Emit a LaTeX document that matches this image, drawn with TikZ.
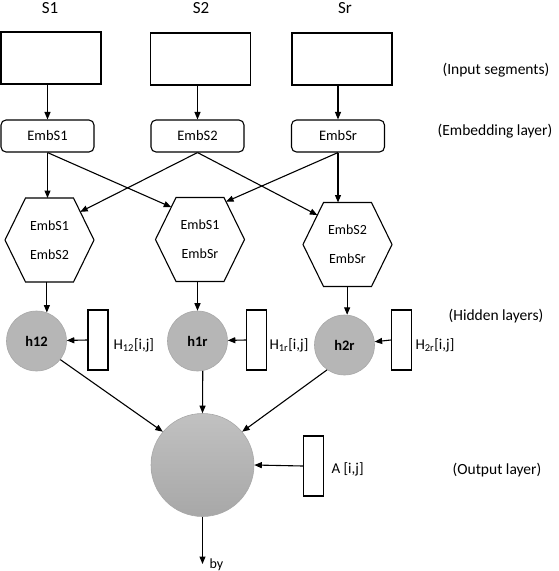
\documentclass[tikz,border=0pt]{standalone}
\usepackage{fontspec}
\setmainfont{Carlito}
\usetikzlibrary{arrows.meta,calc}
\definecolor{hidgray}{HTML}{B6B6B6}
\definecolor{hidedge}{HTML}{A8A8A8}
\newcommand\hexshape[3]{%
  \coordinate (#1-tl) at (#2-24,#3-42);
  \coordinate (#1-tr) at (#2+24,#3-42);
  \coordinate (#1-r)  at (#2+44.5,#3);
  \coordinate (#1-br) at (#2+24,#3+42);
  \coordinate (#1-bl) at (#2-24,#3+42);
  \coordinate (#1-l)  at (#2-44.5,#3);
  \draw[line join=miter] (#1-tl) -- (#1-tr) -- (#1-r) -- (#1-br) -- (#1-bl) -- (#1-l) -- cycle;
}
\begin{document}
\begin{tikzpicture}[x=1pt,y=-1pt,line width=1.1pt,
  arr/.style={-{Triangle[length=7.5pt,width=6pt]}},
  inbox/.style={draw, minimum width=100pt, minimum height=52pt, inner sep=0pt},
  embbox/.style={draw, rounded corners=5pt, minimum width=93pt, minimum height=32pt, inner sep=0pt, font=\fontsize{14.5}{16}\selectfont},
  hextext/.style={align=center, font=\fontsize{14}{29}\selectfont, inner sep=0pt},
  hid/.style={circle, draw=hidedge, line width=0.6pt, fill=hidgray, minimum size=60pt, inner sep=0pt, font=\bfseries\fontsize{14.5}{16}\selectfont},
  wbox/.style={draw, minimum width=20pt, minimum height=60pt, inner sep=0pt},
  toplab/.style={font=\fontsize{17}{20}\selectfont, inner sep=0pt},
  sidelab/.style={font=\fontsize{15.5}{18}\selectfont, inner sep=0pt},
  wlab/.style={font=\fontsize{15}{18}\selectfont, inner sep=0pt, anchor=west}
]
\useasboundingbox (0,0) rectangle (558,571);

% top labels
\node[toplab] (s1) at (50,8) {S1};
\node[toplab] (s2) at (201,8) {S2};
\node[toplab] (sr) at (345,8) {Sr};

% input boxes
\node[inbox] (in1) at (51,58) {};
\node[inbox] (in2) at (200.5,59) {};
\node[inbox] (in3) at (342,59) {};

% embedding boxes
\node[embbox] (emb1) at (47.5,136) {EmbS1};
\node[embbox] (emb2) at (197.5,136) {EmbS2};
\node[embbox] (emb3) at (338,136) {EmbSr};

% hexagons
\hexshape{hex1}{49.5}{240}
\hexshape{hex2}{200}{239.5}
\hexshape{hex3}{347.5}{244.5}
\node[hextext] (hx1) at (49.5,240) {EmbS1\\EmbS2};
\node[hextext] (hx2) at (200,239.5) {EmbS1\\EmbSr};
\node[hextext] (hx3) at (347.5,244.5) {EmbS2\\EmbSr};

% hidden circles
\node[hid] (h12) at (36.5,341) {h12};
\node[hid] (h1r) at (197.5,341) {h1r};
\node[hid] (h2r) at (344.5,345) {h2r};

% weight boxes
\node[wbox] (w1) at (98,340) {};
\node[wbox] (w2) at (256.5,340) {};
\node[wbox] (w3) at (401.5,340) {};
\node[wlab] (l1) at (113,345) {H\textsubscript{12}[i,j]};
\node[wlab] (l2) at (269,345) {H\textsubscript{1r}[i,j]};
\node[wlab] (l3) at (415,345) {H\textsubscript{2r}[i,j]};

% output
\node[circle, minimum size=103pt, inner sep=0pt, draw=hidedge, line width=0.6pt,
      top color=hidgray!85!white, bottom color=hidgray!92!black] (out) at (202.5,465) {};
\node[wbox] (wa) at (313.5,466) {};
\node[wlab] (la) at (331,469) {A [i,j]};
\coordinate (by) at (202.5,564);
\node[font=\fontsize{14}{16}\selectfont, inner sep=0pt, anchor=base west] (bylab) at (209,568) {by};

% side labels
\node[sidelab] (li) at (496,70) {(Input segments)};
\node[sidelab] (le) at (495,131) {(Embedding layer)};
\node[sidelab] (lh) at (496,316) {(Hidden layers)};
\node[sidelab] (lo) at (497,470) {(Output layer)};

% connectors: input -> embedding
\draw[arr] (in1.south -| emb1.north) -- (emb1.north);
\draw[arr] (in2.south -| emb2.north) -- (emb2.north);
\draw[arr] (in3.south -| emb3.north) -- (emb3.north);

% embedding -> hexagons
\draw[arr] (emb1.south) -- (emb1.south |- hex1-tl);
\draw[arr] (emb1.south) -- ($(hex2-tl)!0.23!(hex2-l)$);
\draw[arr] (emb2.south) -- ($(hex1-tr)!0.33!(hex1-r)$);
\draw[arr] (emb2.south) -- ($(hex3-tl)!0.3!(hex3-l)$);
\draw[arr] (emb3.south) -- ($(hex2-tr)!0.1!(hex2-r)$);
\draw[arr] (emb3.south) -- (emb3.south |- hex3-tl);

% hexagons -> hidden
\draw[arr] (h12.70 |- hex1-bl) -- (h12.70);
\draw[arr] (h1r.north |- hex2-bl) -- (h1r.north);
\draw[arr] (h2r.85 |- hex3-bl) -- (h2r.85);

% weights -> hidden
\draw[arr] (w1.west) -- (h12);
\draw[arr] (w2.west) -- (h1r);
\draw[arr] (w3.west) -- (h2r);

% hidden -> output
\draw[arr] (h12.-38) -- (out.140);
\draw[arr] (h1r.-80) -- (out.north);
\draw[arr] (h2r.235) -- (out.40);
\draw[arr] (wa.west) -- (out.east);
\draw[arr] (out.south) -- (by);
\end{tikzpicture}
\end{document}
